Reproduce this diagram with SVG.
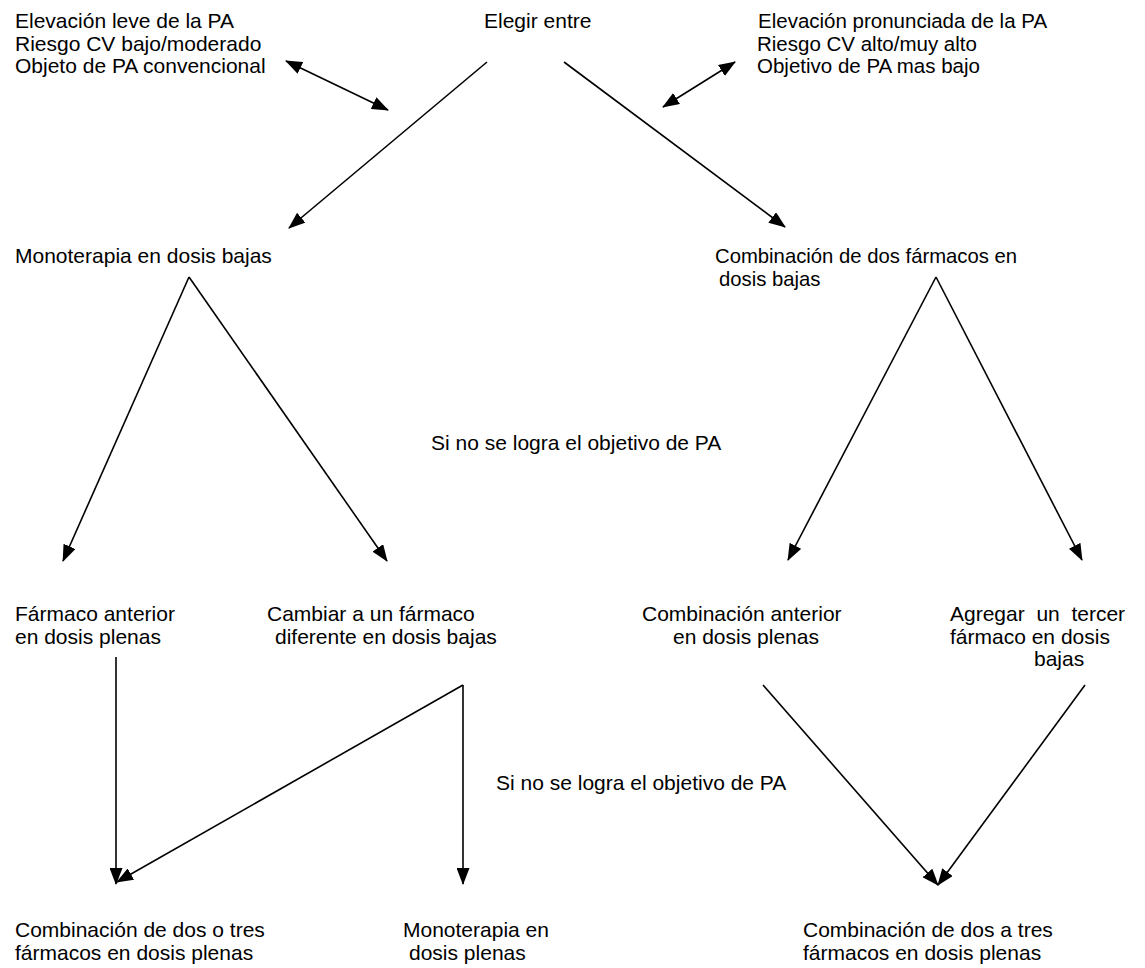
<svg xmlns="http://www.w3.org/2000/svg" width="1145" height="968" viewBox="0 0 1145 968" font-size="21">
<style>
text{font-family:"Liberation Sans",Arial,sans-serif;fill:#000}
.c line{stroke:#000;stroke-width:1.6;fill:none}
</style>
<defs>
<marker id="ah" viewBox="0 0 17 13" refX="16" refY="6.5" markerWidth="17" markerHeight="13" markerUnits="userSpaceOnUse" orient="auto-start-reverse">
<path d="M0,0 L17,6.5 L0,13 z" fill="#000"/>
</marker>
</defs>
<rect width="1145" height="968" fill="#fff"/>
<g class="c" id="connectors">
<line x1="286" y1="61" x2="388" y2="110" marker-start="url(#ah)" marker-end="url(#ah)"/>
<line x1="735" y1="62" x2="663" y2="107" marker-start="url(#ah)" marker-end="url(#ah)"/>
<line x1="487" y1="62" x2="289" y2="228" marker-end="url(#ah)"/>
<line x1="564" y1="62" x2="785" y2="227" marker-end="url(#ah)"/>
<line x1="189" y1="277" x2="63" y2="561" marker-end="url(#ah)"/>
<line x1="189" y1="277" x2="387" y2="561" marker-end="url(#ah)"/>
<line x1="936" y1="277" x2="788" y2="560" marker-end="url(#ah)"/>
<line x1="936" y1="277" x2="1082" y2="560" marker-end="url(#ah)"/>
<line x1="116" y1="657" x2="116" y2="884" marker-end="url(#ah)"/>
<line x1="463" y1="685" x2="117" y2="882" marker-end="url(#ah)"/>
<line x1="463" y1="685" x2="463" y2="884" marker-end="url(#ah)"/>
<line x1="763" y1="685" x2="938" y2="885" marker-end="url(#ah)"/>
<line x1="1085" y1="685" x2="938" y2="885" marker-end="url(#ah)"/>
</g>
<g id="n_leve"><text x="15" y="28">Elevación leve de la PA</text><text x="15" y="50.5">Riesgo CV bajo/moderado</text><text x="15" y="73">Objeto de PA convencional</text></g>
<g id="n_elegir"><text x="484" y="28">Elegir entre</text></g>
<g id="n_pron" font-size="20.5"><text x="758" y="28">Elevación pronunciada de la PA</text><text x="757" y="50.5">Riesgo CV alto/muy alto</text><text x="757" y="73">Objetivo de PA mas bajo</text></g>
<g id="n_mono"><text x="15" y="263">Monoterapia en dosis bajas</text></g>
<g id="n_comb" font-size="20.3"><text x="715" y="263">Combinación de dos fármacos en</text><text x="719" y="285.5">dosis bajas</text></g>
<g id="l_si1"><text x="431" y="450">Si no se logra el objetivo de PA</text></g>
<g id="n_farm"><text x="15" y="621">Fármaco anterior</text><text x="15" y="643.5">en dosis plenas</text></g>
<g id="n_camb"><text x="267" y="621">Cambiar a un fármaco</text><text x="275" y="643.5">diferente en dosis bajas</text></g>
<g id="n_combant"><text x="642" y="621">Combinación anterior</text><text x="673" y="643.5">en dosis plenas</text></g>
<g id="n_agreg"><text x="950" y="621" xml:space="preserve">Agregar  un  tercer</text><text x="950" y="643.5">fármaco en dosis</text><text x="1034" y="666">bajas</text></g>
<g id="l_si2"><text x="496" y="790">Si no se logra el objetivo de PA</text></g>
<g id="n_comb23"><text x="15" y="937">Combinación de dos o tres</text><text x="15" y="959.5">fármacos en dosis plenas</text></g>
<g id="n_monopl"><text x="403" y="937">Monoterapia en</text><text x="409" y="959.5">dosis plenas</text></g>
<g id="n_comb2a3"><text x="803" y="937">Combinación de dos a tres</text><text x="803" y="959.5">fármacos en dosis plenas</text></g>
</svg>
